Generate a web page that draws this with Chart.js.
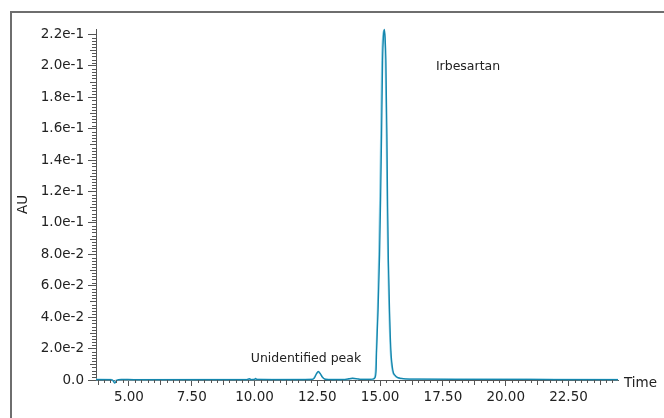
<!DOCTYPE html>
<html>
<head>
<meta charset="utf-8">
<script src="https://cdn.jsdelivr.net/npm/chart.js@4.4.0/dist/chart.umd.min.js"></script>
<style>
html, body { margin: 0; padding: 0; background: #fff; overflow: hidden; }
#frame { position: absolute; left: 10px; top: 11px; width: 700px; height: 450px; border: 2px solid #6e6e6e; }
#wrap { position: absolute; left: 0; top: 0; width: 664px; height: 418px; }
</style>
</head>
<body>
<div id="frame"></div>
<div id="wrap"><canvas id="c" width="664" height="418"></canvas></div>
<script>
// main trace (dark), time in minutes / absorbance in AU
const traceTime = [3.69, 3.80, 3.95, 4.10, 4.25, 4.35, 4.43, 4.50, 4.58, 4.70, 5.20, 6.00, 7.00, 8.00, 9.00, 9.70, 9.80, 9.86, 10.00, 10.04, 10.10, 11.00, 12.00, 12.30, 12.38, 12.45, 12.54, 12.62, 12.70, 12.80, 12.95, 13.60, 13.75, 13.90, 14.05, 14.20, 14.60, 14.75, 14.80, 14.84, 14.86, 14.92, 14.98, 15.02, 15.06, 15.10, 15.14, 15.17, 15.20, 15.23, 15.27, 15.30, 15.33, 15.38, 15.43, 15.51, 15.60, 15.71, 15.85, 16.00, 16.50, 18.00, 20.00, 22.00, 24.47];
const traceAU   = [0.0003, 0.0002, 0.0003, 0.0002, 0.0002, 0.0000, -0.0020, -0.0008, 0.0003, 0.0004, 0.0003, 0.0003, 0.0003, 0.0003, 0.0003, 0.0003, 0.0008, 0.0003, 0.0004, 0.0010, 0.0004, 0.0003, 0.0003, 0.0004, 0.0012, 0.0035, 0.0054, 0.0040, 0.0018, 0.0006, 0.0003, 0.0003, 0.0008, 0.0011, 0.0009, 0.0004, 0.0004, 0.0008, 0.0016, 0.0060, 0.0187, 0.0450, 0.0800, 0.1150, 0.1570, 0.2036, 0.2200, 0.2232, 0.2180, 0.2036, 0.1570, 0.1100, 0.0760, 0.0420, 0.0187, 0.0060, 0.0030, 0.0015, 0.0010, 0.0007, 0.0005, 0.0004, 0.0004, 0.0003, 0.0003];

// second (lighter) trace, nearly overlapping
const lightTime = [3.69, 4.30, 4.42, 4.52, 9.00, 12.30, 12.45, 12.53, 12.62, 12.80, 13.70, 13.90, 14.10, 14.70, 14.78, 14.82, 14.85, 14.90, 14.95, 14.99, 15.03, 15.07, 15.11, 15.15, 15.18, 15.21, 15.25, 15.28, 15.31, 15.36, 15.41, 15.49, 15.58, 15.70, 16.00, 24.47];
const lightAU   = [0.0004, 0.0003, -0.0012, 0.0002, 0.0003, 0.0004, 0.0034, 0.0052, 0.0038, 0.0005, 0.0004, 0.0010, 0.0006, 0.0004, 0.0018, 0.0070, 0.0200, 0.0450, 0.0800, 0.1150, 0.1570, 0.2036, 0.2190, 0.2225, 0.2180, 0.2036, 0.1570, 0.1100, 0.0760, 0.0420, 0.0187, 0.0060, 0.0028, 0.0014, 0.0006, 0.0003];

const xTickValues = [5, 7.5, 10, 12.5, 15, 17.5, 20, 22.5];
const yTickValues = [0, 0.02, 0.04, 0.06, 0.08, 0.10, 0.12, 0.14, 0.16, 0.18, 0.20, 0.22];

const peakNames = ['Irbesartan', 'Unidentified peak'];
const peakTime  = [17.22, 9.85];
const peakAU    = [0.1995, 0.0136];

const toPoints = (xs, ys) => xs.map((t, i) => ({ x: t, y: ys[i] }));

const fontFamily = '"DejaVu Sans", Verdana, sans-serif';
const axisColor = '#555';

const extras = {
    id: 'extras',
    afterDraw(chart) {
        const { ctx, scales: { x, y } } = chart;
        ctx.save();
        ctx.strokeStyle = axisColor;
        ctx.lineWidth = 1;
        ctx.beginPath();
        // minor ticks, y axis
        for (let i = 1; i < 110; i++) {
            if (i % 10 === 0) continue;
            const py = Math.round(y.getPixelForValue(i * 0.002)) + 0.5;
            const len = i % 5 === 0 ? 6 : 4;
            ctx.moveTo(y.right - len, py);
            ctx.lineTo(y.right, py);
        }
        // minor ticks, x axis
        for (let i = 15; i <= 97; i++) {
            if (i % 10 === 0) continue;
            const px = Math.round(x.getPixelForValue(i * 0.25)) + 0.5;
            if (px < chart.chartArea.left || px > chart.chartArea.right) continue;
            const len = i % 5 === 0 ? 5 : 3;
            ctx.moveTo(px, x.top);
            ctx.lineTo(px, x.top + len);
        }
        ctx.stroke();

        ctx.fillStyle = '#222';
        ctx.textBaseline = 'middle';
        ctx.textAlign = 'left';
        ctx.font = '12.5px ' + fontFamily;
        peakNames.forEach((name, i) => {
            ctx.fillText(name, x.getPixelForValue(peakTime[i]), y.getPixelForValue(peakAU[i]));
        });
        ctx.font = '13.5px ' + fontFamily;
        ctx.fillText('Time', chart.chartArea.right + 6, x.top + 3);
        ctx.restore();
    }
};

new Chart(document.getElementById('c'), {
    type: 'line',
    data: {
        datasets: [
            {
                data: toPoints(traceTime, traceAU),
                borderColor: '#1486ad',
                borderWidth: 1.3,
                pointRadius: 0,
                cubicInterpolationMode: 'monotone',
                clip: false,
            },
            {
                data: toPoints(lightTime, lightAU),
                borderColor: '#8fcfe4',
                borderWidth: 1.6,
                pointRadius: 0,
                cubicInterpolationMode: 'monotone',
                clip: false,
            }
        ]
    },
    options: {
        responsive: false,
        animation: false,
        devicePixelRatio: 1,
        layout: { padding: { left: 0, top: 29, right: 46, bottom: 0 } },
        plugins: { legend: { display: false }, tooltip: { enabled: false } },
        scales: {
            x: {
                type: 'linear',
                min: 3.69,
                max: 24.47,
                afterFit: s => { s.height = 38; },
                afterBuildTicks: s => { s.ticks = xTickValues.map(v => ({ value: v })); },
                ticks: {
                    padding: 3,
                    color: '#222',
                    font: { family: fontFamily, size: 13.5 },
                    callback: v => v.toFixed(2),
                    maxRotation: 0,
                    autoSkip: false,
                },
                grid: { display: true, drawOnChartArea: false, tickLength: 6, tickColor: axisColor },
                border: { display: true, color: axisColor, width: 1 },
            },
            y: {
                min: 0,
                max: 0.2235,
                afterFit: s => { s.width = 96; },
                afterBuildTicks: s => { s.ticks = yTickValues.map(v => ({ value: v })); },
                ticks: {
                    padding: 4,
                    color: '#222',
                    font: { family: fontFamily, size: 13.5 },
                    callback: v => (Math.abs(v) < 1e-9 ? '0.0' : v.toExponential(1)),
                    autoSkip: false,
                },
                title: {
                    display: true,
                    text: 'AU',
                    color: '#222',
                    font: { family: fontFamily, size: 13.5 },
                    padding: { top: 15, bottom: 0 },
                },
                grid: { display: true, drawOnChartArea: false, tickLength: 8, tickColor: axisColor },
                border: { display: true, color: axisColor, width: 1 },
            }
        }
    },
    plugins: [extras]
});
</script>
</body>
</html>
